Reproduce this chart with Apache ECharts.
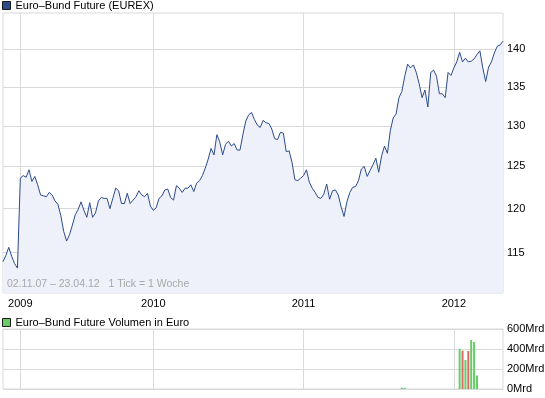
<!DOCTYPE html>
<html>
<head>
<meta charset="utf-8">
<script src="https://cdn.jsdelivr.net/npm/echarts@6/dist/echarts.min.js"></script>
<style>
html,body{margin:0;padding:0;background:#fff}
#chart{width:545px;height:398px}
</style>
</head>
<body>
<div id="chart"></div>
<script>
// weekly closes, Euro-Bund Future
var price = [
	114.0, 114.7, 115.6, 114.6, 113.8, 113.3, 123.6, 123.9, 123.7, 124.6,
	123.2, 123.8, 122.8, 121.6, 121.5, 121.4, 121.9, 121.6, 120.9, 120.5,
	119.2, 117.4, 116.3, 117.0, 118.1, 119.3, 119.9, 120.8, 119.8, 119.0,
	120.7, 119.0, 119.5, 120.9, 121.3, 121.2, 121.2, 120.0, 121.2, 122.4,
	122.1, 120.6, 120.6, 121.8, 120.6, 121.0, 121.4, 122.1, 121.6, 121.4,
	121.8, 120.3, 119.8, 120.1, 121.2, 121.5, 122.2, 122.3, 121.3, 121.0,
	122.7, 122.4, 121.9, 122.4, 122.4, 122.8, 122.0, 123.0, 123.3, 123.9,
	124.8, 125.9, 127.2, 126.4, 128.9, 128.0, 126.4, 127.7, 128.1, 127.5,
	127.8, 127.0, 127.0, 128.9, 130.6, 131.4, 131.7, 130.8, 130.1, 129.8,
	130.7, 130.4, 130.3, 129.6, 128.4, 128.3, 129.2, 129.1, 126.8, 126.9,
	125.5, 123.4, 123.3, 123.6, 123.9, 124.6, 123.1, 122.4, 121.9, 121.3,
	121.2, 121.7, 122.9, 121.1, 122.1, 122.2, 121.6, 120.2, 119.1, 120.8,
	121.9, 122.5, 122.6, 123.3, 124.7, 125.0, 123.8, 124.5, 125.2, 126.0,
	124.3, 126.3, 127.5, 126.6, 129.4, 131.0, 131.5, 133.6, 134.4, 136.4,
	138.0, 137.5, 137.9, 136.9, 135.4, 133.6, 134.6, 132.4, 136.9, 137.2,
	136.4, 134.1, 134.1, 133.6, 136.9, 136.5, 137.5, 138.3, 139.6, 138.3,
	138.8, 138.3, 138.4, 138.7, 139.3, 139.8, 137.5, 135.7, 137.6, 138.3,
	139.5, 140.4, 140.6, 141.1
]
var yTicks = [115, 120, 125, 130, 135, 140]
var yearLabels = ['2009', '2010', '2011', '2012']
var yearStartWeek = [6, 52, 104, 156]   // week index where each year starts
// volume in Mrd Euro, only a few weeks have data
var volWeek = [138, 139, 158, 159, 160, 161, 162, 163, 164]
var volMrd = [12, 12, 400, 383, 290, 380, 490, 470, 135]

var weeks = price.map(function(v, i) { return String(i) })
var volume = price.map(function() { return null })
for (var k = 0; k < volWeek.length; k++) {
	volume[volWeek[k]] = volMrd[k]
}
var up = price.map(function(v, i) { return i == 0 || v >= price[i - 1] })

function isYear(idx) {
	return yearStartWeek.indexOf(idx) >= 0
}

var font = 'Arial, "Liberation Sans", sans-serif'
var gridColor = '#d9d9d9'
var lineColor = '#2b4a8a'

var chart = echarts.init(document.getElementById('chart'))
chart.setOption({
	animation: false,
	textStyle: { fontFamily: font },
	title: {
		text: '02.11.07 – 23.04.12   1 Tick = 1 Woche',
		left: 7, top: 279, padding: 0,
		textStyle: { color: '#a8a8a8', fontSize: 10.5, fontWeight: 'normal', fontFamily: font }
	},
	legend: [{
		left: 2, top: 0, padding: 0, icon: 'rect', itemWidth: 8, itemHeight: 8,
		selectedMode: false,
		textStyle: { color: '#000', fontSize: 11, fontFamily: font },
		data: [{ name: 'Euro–Bund Future (EUREX)', itemStyle: { color: lineColor, borderColor: '#1a1a1a', borderWidth: 1 } }]
	}, {
		left: 2, top: 317, padding: 0, icon: 'rect', itemWidth: 8, itemHeight: 8,
		selectedMode: false,
		textStyle: { color: '#000', fontSize: 11, fontFamily: font },
		data: [{ name: 'Euro–Bund Future Volumen in Euro', itemStyle: { color: '#66cc66', borderColor: '#1a1a1a', borderWidth: 1 } }]
	}],
	grid: [
		{ left: 3, right: 42, top: 13, height: 280, show: true, borderColor: gridColor, borderWidth: 1, outerBoundsMode: 'none' },
		{ left: 3, right: 42, top: 329, height: 60, show: true, borderColor: gridColor, borderWidth: 1, outerBoundsMode: 'none' }
	],
	xAxis: [{
		type: 'category', gridIndex: 0, data: weeks, boundaryGap: false,
		axisLine: { show: false }, axisTick: { show: false },
		axisLabel: {
			interval: isYear, color: '#000', fontSize: 11, margin: 5,
			formatter: function(v, i) { return yearLabels[yearStartWeek.indexOf(+v)] || '' }
		},
		splitLine: { show: true, interval: isYear, lineStyle: { color: gridColor } }
	}, {
		type: 'category', gridIndex: 1, data: weeks, boundaryGap: false,
		axisLine: { show: false }, axisTick: { show: false }, axisLabel: { show: false },
		splitLine: { show: true, interval: isYear, lineStyle: { color: gridColor } }
	}],
	yAxis: [{
		type: 'value', gridIndex: 0, position: 'right',
		min: Math.log(110.6), max: Math.log(145),
		axisLine: { show: false },
		axisTick: { show: false, customValues: yTicks.map(Math.log) },
		axisLabel: {
			customValues: yTicks.map(Math.log), color: '#000', fontSize: 11, margin: 4,
			formatter: function(v) { return Math.round(Math.exp(v)) }
		},
		splitLine: { lineStyle: { color: gridColor } }
	}, {
		type: 'value', gridIndex: 1, position: 'right', min: 0, max: 600, interval: 200,
		axisLine: { show: false }, axisTick: { show: false },
		axisLabel: { formatter: '{value}Mrd', color: '#000', fontSize: 11, margin: 4 },
		splitLine: { lineStyle: { color: gridColor } }
	}],
	series: [{
		name: 'Euro–Bund Future (EUREX)', type: 'line', xAxisIndex: 0, yAxisIndex: 0,
		data: price.map(Math.log), symbol: 'none', silent: true,
		lineStyle: { color: lineColor, width: 1 },
		itemStyle: { color: lineColor },
		areaStyle: { color: '#eef1fa', opacity: 1, origin: 'start' }
	}, {
		name: 'Euro–Bund Future Volumen in Euro', type: 'bar', xAxisIndex: 1, yAxisIndex: 1,
		data: volume, barWidth: 2, silent: true,
		itemStyle: { color: function(p) { return up[p.dataIndex] ? '#66cc66' : '#dd6666' } }
	}]
})
</script>
</body>
</html>
